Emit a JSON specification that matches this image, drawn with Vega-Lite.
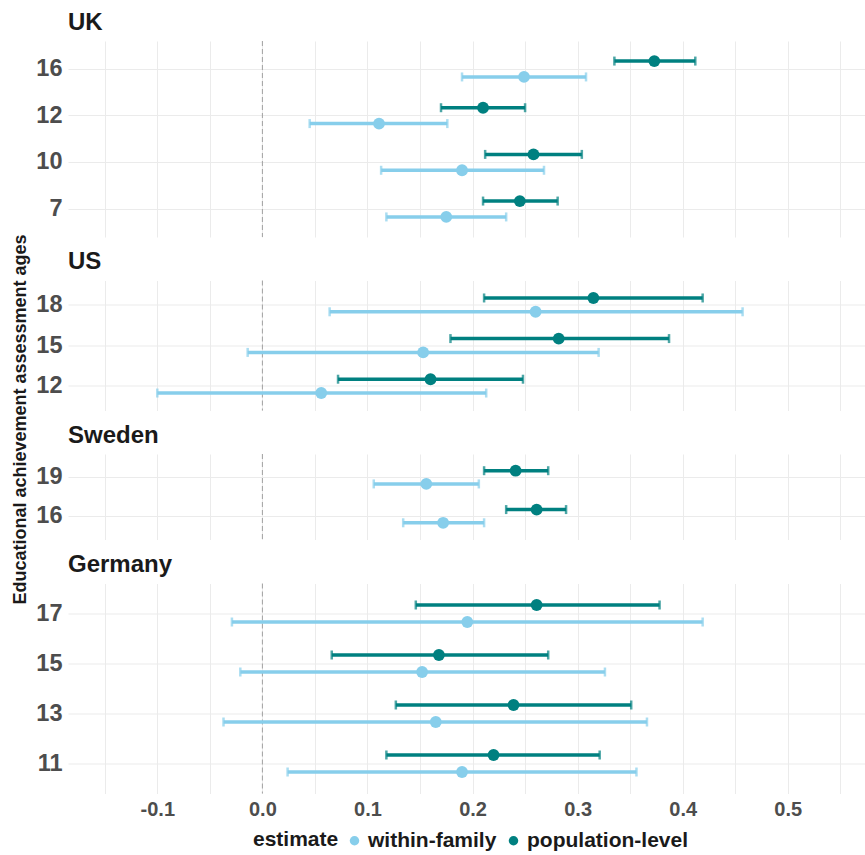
{
  "$schema": "https://vega.github.io/schema/vega-lite/v6.json",
  "padding": {"left": 11, "top": 10, "right": 0, "bottom": 0},
  "autosize": {"type": "pad"},
  "background": "white",
  "datasets": {
    "est": [
      {"country": "UK", "age": 16, "estimate": "population-level", "est": 0.373, "lo": 0.335, "hi": 0.412},
      {"country": "UK", "age": 16, "estimate": "within-family", "est": 0.249, "lo": 0.190, "hi": 0.308},
      {"country": "UK", "age": 12, "estimate": "population-level", "est": 0.210, "lo": 0.170, "hi": 0.250},
      {"country": "UK", "age": 12, "estimate": "within-family", "est": 0.111, "lo": 0.045, "hi": 0.176},
      {"country": "UK", "age": 10, "estimate": "population-level", "est": 0.258, "lo": 0.212, "hi": 0.304},
      {"country": "UK", "age": 10, "estimate": "within-family", "est": 0.190, "lo": 0.113, "hi": 0.268},
      {"country": "UK", "age": 7, "estimate": "population-level", "est": 0.245, "lo": 0.210, "hi": 0.281},
      {"country": "UK", "age": 7, "estimate": "within-family", "est": 0.175, "lo": 0.118, "hi": 0.232},
      {"country": "US", "age": 18, "estimate": "population-level", "est": 0.315, "lo": 0.211, "hi": 0.419},
      {"country": "US", "age": 18, "estimate": "within-family", "est": 0.260, "lo": 0.064, "hi": 0.457},
      {"country": "US", "age": 15, "estimate": "population-level", "est": 0.282, "lo": 0.179, "hi": 0.387},
      {"country": "US", "age": 15, "estimate": "within-family", "est": 0.153, "lo": -0.014, "hi": 0.320},
      {"country": "US", "age": 12, "estimate": "population-level", "est": 0.160, "lo": 0.072, "hi": 0.248},
      {"country": "US", "age": 12, "estimate": "within-family", "est": 0.056, "lo": -0.100, "hi": 0.213},
      {"country": "Sweden", "age": 19, "estimate": "population-level", "est": 0.241, "lo": 0.211, "hi": 0.272},
      {"country": "Sweden", "age": 19, "estimate": "within-family", "est": 0.156, "lo": 0.106, "hi": 0.206},
      {"country": "Sweden", "age": 16, "estimate": "population-level", "est": 0.261, "lo": 0.232, "hi": 0.289},
      {"country": "Sweden", "age": 16, "estimate": "within-family", "est": 0.172, "lo": 0.134, "hi": 0.211},
      {"country": "Germany", "age": 17, "estimate": "population-level", "est": 0.261, "lo": 0.146, "hi": 0.378},
      {"country": "Germany", "age": 17, "estimate": "within-family", "est": 0.195, "lo": -0.029, "hi": 0.419},
      {"country": "Germany", "age": 15, "estimate": "population-level", "est": 0.168, "lo": 0.066, "hi": 0.272},
      {"country": "Germany", "age": 15, "estimate": "within-family", "est": 0.152, "lo": -0.021, "hi": 0.326},
      {"country": "Germany", "age": 13, "estimate": "population-level", "est": 0.239, "lo": 0.127, "hi": 0.351},
      {"country": "Germany", "age": 13, "estimate": "within-family", "est": 0.165, "lo": -0.037, "hi": 0.366},
      {"country": "Germany", "age": 11, "estimate": "population-level", "est": 0.220, "lo": 0.118, "hi": 0.321},
      {"country": "Germany", "age": 11, "estimate": "within-family", "est": 0.190, "lo": 0.024, "hi": 0.356}
    ],
    "zero": [{"zero": 0}]
  },
  "bounds": "flush",
  "spacing": 43.5,
  "resolve": {"scale": {"x": "independent", "y": "independent", "yOffset": "independent"}},
  "vconcat": [
    {
      "title": {"text": "UK"},
      "width": 797, "height": 196,
      "layer": [
        {"data": {"name": "zero"}, "mark": {"type": "rule", "color": "#a0a0a0", "strokeDash": [5, 3], "strokeWidth": 1},
         "encoding": {"x": {"field": "zero", "type": "quantitative", "scale": {"domain": [-0.185, 0.5735], "nice": false, "zero": false},
           "axis": {"title": null, "labels": false, "grid": true, "values": [-0.15, -0.1, -0.05, 0, 0.05, 0.1, 0.15, 0.2, 0.25, 0.3, 0.35, 0.4, 0.45, 0.5, 0.55]}}}},
        {"data": {"name": "est"}, "transform": [{"filter": "datum.country === 'UK'"}],
         "encoding": {
           "y": {"field": "age", "type": "ordinal", "sort": "descending", "scale": {"paddingInner": 0, "paddingOuter": 0.1},
             "axis": {"title": "Educational achievement assessment ages", "grid": true, "bandPosition": 0.5, "titleX": -48, "titleY": 378, "titleAngle": -90, "titleAlign": "center", "titleBaseline": "middle", "titleFontSize": 18}},
           "yOffset": {"field": "estimate", "type": "nominal", "scale": {"domain": ["population-level", "within-family"], "paddingInner": 0, "paddingOuter": 0.47}}
         },
         "layer": [
           {"mark": {"type": "point", "filled": true, "size": 140, "opacity": 1, "strokeWidth": 0}, "encoding": {"x": {"field": "est", "type": "quantitative", "scale": {"domain": [-0.185, 0.5735], "nice": false, "zero": false}, "axis": {"title": null}}, "fill": {"field": "estimate", "type": "nominal", "scale": {"domain": ["within-family", "population-level"], "range": ["#87CEEB", "#008080"]}, "title": "estimate", "legend": {"orient": "none", "legendX": 185, "legendY": 789, "direction": "horizontal", "titleOrient": "left"}}}},
           {"mark": {"type": "rule", "strokeWidth": 3.5}, "encoding": {"x": {"field": "lo", "type": "quantitative", "axis": {"title": null}}, "x2": {"field": "hi"}, "color": {"field": "estimate", "type": "nominal", "scale": {"domain": ["within-family", "population-level"], "range": ["#87CEEB", "#008080"]}, "legend": null}}},
           {"mark": {"type": "tick", "size": 9, "thickness": 2.5, "orient": "vertical"}, "encoding": {"x": {"field": "lo", "type": "quantitative", "axis": {"title": null}}, "color": {"field": "estimate", "type": "nominal", "legend": null}}},
           {"mark": {"type": "tick", "size": 9, "thickness": 2.5, "orient": "vertical"}, "encoding": {"x": {"field": "hi", "type": "quantitative", "axis": {"title": null}}, "color": {"field": "estimate", "type": "nominal", "legend": null}}}
         ]}
      ]
    },
    {
      "title": {"text": "US"},
      "width": 797, "height": 130,
      "layer": [
        {"data": {"name": "zero"}, "mark": {"type": "rule", "color": "#a0a0a0", "strokeDash": [5, 3], "strokeWidth": 1},
         "encoding": {"x": {"field": "zero", "type": "quantitative", "scale": {"domain": [-0.185, 0.5735], "nice": false, "zero": false},
           "axis": {"title": null, "labels": false, "grid": true, "values": [-0.15, -0.1, -0.05, 0, 0.05, 0.1, 0.15, 0.2, 0.25, 0.3, 0.35, 0.4, 0.45, 0.5, 0.55]}}}},
        {"data": {"name": "est"}, "transform": [{"filter": "datum.country === 'US'"}],
         "encoding": {
           "y": {"field": "age", "type": "ordinal", "sort": "descending", "scale": {"paddingInner": 0, "paddingOuter": 0.1}, "axis": {"title": null, "grid": true, "bandPosition": 0.5}},
           "yOffset": {"field": "estimate", "type": "nominal", "scale": {"domain": ["population-level", "within-family"], "paddingInner": 0, "paddingOuter": 0.47}}
         },
         "layer": [
           {"mark": {"type": "point", "filled": true, "size": 140, "opacity": 1, "strokeWidth": 0}, "encoding": {"x": {"field": "est", "type": "quantitative", "scale": {"domain": [-0.185, 0.5735], "nice": false, "zero": false}, "axis": {"title": null}}, "fill": {"field": "estimate", "type": "nominal", "scale": {"domain": ["within-family", "population-level"], "range": ["#87CEEB", "#008080"]}, "title": "estimate"}}},
           {"mark": {"type": "rule", "strokeWidth": 3.5}, "encoding": {"x": {"field": "lo", "type": "quantitative", "axis": {"title": null}}, "x2": {"field": "hi"}, "color": {"field": "estimate", "type": "nominal", "scale": {"domain": ["within-family", "population-level"], "range": ["#87CEEB", "#008080"]}, "legend": null}}},
           {"mark": {"type": "tick", "size": 9, "thickness": 2.5, "orient": "vertical"}, "encoding": {"x": {"field": "lo", "type": "quantitative", "axis": {"title": null}}, "color": {"field": "estimate", "type": "nominal", "legend": null}}},
           {"mark": {"type": "tick", "size": 9, "thickness": 2.5, "orient": "vertical"}, "encoding": {"x": {"field": "hi", "type": "quantitative", "axis": {"title": null}}, "color": {"field": "estimate", "type": "nominal", "legend": null}}}
         ]}
      ]
    },
    {
      "title": {"text": "Sweden"},
      "width": 797, "height": 85.5,
      "layer": [
        {"data": {"name": "zero"}, "mark": {"type": "rule", "color": "#a0a0a0", "strokeDash": [5, 3], "strokeWidth": 1},
         "encoding": {"x": {"field": "zero", "type": "quantitative", "scale": {"domain": [-0.185, 0.5735], "nice": false, "zero": false},
           "axis": {"title": null, "labels": false, "grid": true, "values": [-0.15, -0.1, -0.05, 0, 0.05, 0.1, 0.15, 0.2, 0.25, 0.3, 0.35, 0.4, 0.45, 0.5, 0.55]}}}},
        {"data": {"name": "est"}, "transform": [{"filter": "datum.country === 'Sweden'"}],
         "encoding": {
           "y": {"field": "age", "type": "ordinal", "sort": "descending", "scale": {"paddingInner": 0, "paddingOuter": 0.1}, "axis": {"title": null, "grid": true, "bandPosition": 0.5}},
           "yOffset": {"field": "estimate", "type": "nominal", "scale": {"domain": ["population-level", "within-family"], "paddingInner": 0, "paddingOuter": 0.47}}
         },
         "layer": [
           {"mark": {"type": "point", "filled": true, "size": 140, "opacity": 1, "strokeWidth": 0}, "encoding": {"x": {"field": "est", "type": "quantitative", "scale": {"domain": [-0.185, 0.5735], "nice": false, "zero": false}, "axis": {"title": null}}, "fill": {"field": "estimate", "type": "nominal", "scale": {"domain": ["within-family", "population-level"], "range": ["#87CEEB", "#008080"]}, "title": "estimate"}}},
           {"mark": {"type": "rule", "strokeWidth": 3.5}, "encoding": {"x": {"field": "lo", "type": "quantitative", "axis": {"title": null}}, "x2": {"field": "hi"}, "color": {"field": "estimate", "type": "nominal", "scale": {"domain": ["within-family", "population-level"], "range": ["#87CEEB", "#008080"]}, "legend": null}}},
           {"mark": {"type": "tick", "size": 9, "thickness": 2.5, "orient": "vertical"}, "encoding": {"x": {"field": "lo", "type": "quantitative", "axis": {"title": null}}, "color": {"field": "estimate", "type": "nominal", "legend": null}}},
           {"mark": {"type": "tick", "size": 9, "thickness": 2.5, "orient": "vertical"}, "encoding": {"x": {"field": "hi", "type": "quantitative", "axis": {"title": null}}, "color": {"field": "estimate", "type": "nominal", "legend": null}}}
         ]}
      ]
    },
    {
      "title": {"text": "Germany"},
      "width": 797, "height": 210,
      "layer": [
        {"data": {"name": "zero"}, "mark": {"type": "rule", "color": "#a0a0a0", "strokeDash": [5, 3], "strokeWidth": 1},
         "encoding": {"x": {"field": "zero", "type": "quantitative", "scale": {"domain": [-0.185, 0.5735], "nice": false, "zero": false},
           "axis": {"title": null, "labels": true, "grid": true, "values": [-0.15, -0.1, -0.05, 0, 0.05, 0.1, 0.15, 0.2, 0.25, 0.3, 0.35, 0.4, 0.45, 0.5, 0.55],
             "labelExpr": "abs(round(datum.value*20)) % 2 == 0 ? replace(format(datum.value, '.1f'), '\u2212', '-') : ''"}}}},
        {"data": {"name": "est"}, "transform": [{"filter": "datum.country === 'Germany'"}],
         "encoding": {
           "y": {"field": "age", "type": "ordinal", "sort": "descending", "scale": {"paddingInner": 0, "paddingOuter": 0.1}, "axis": {"title": null, "grid": true, "bandPosition": 0.5}},
           "yOffset": {"field": "estimate", "type": "nominal", "scale": {"domain": ["population-level", "within-family"], "paddingInner": 0, "paddingOuter": 0.47}}
         },
         "layer": [
           {"mark": {"type": "point", "filled": true, "size": 140, "opacity": 1, "strokeWidth": 0}, "encoding": {"x": {"field": "est", "type": "quantitative", "scale": {"domain": [-0.185, 0.5735], "nice": false, "zero": false}, "axis": {"title": null}}, "fill": {"field": "estimate", "type": "nominal", "scale": {"domain": ["within-family", "population-level"], "range": ["#87CEEB", "#008080"]}, "title": "estimate"}}},
           {"mark": {"type": "rule", "strokeWidth": 3.5}, "encoding": {"x": {"field": "lo", "type": "quantitative", "axis": {"title": null}}, "x2": {"field": "hi"}, "color": {"field": "estimate", "type": "nominal", "scale": {"domain": ["within-family", "population-level"], "range": ["#87CEEB", "#008080"]}, "legend": null}}},
           {"mark": {"type": "tick", "size": 9, "thickness": 2.5, "orient": "vertical"}, "encoding": {"x": {"field": "lo", "type": "quantitative", "axis": {"title": null}}, "color": {"field": "estimate", "type": "nominal", "legend": null}}},
           {"mark": {"type": "tick", "size": 9, "thickness": 2.5, "orient": "vertical"}, "encoding": {"x": {"field": "hi", "type": "quantitative", "axis": {"title": null}}, "color": {"field": "estimate", "type": "nominal", "legend": null}}}
         ]}
      ]
    }
  ],
  "config": {
    "view": {"stroke": null},
    "font": "Liberation Sans",
    "axis": {"domain": false, "ticks": false, "gridColor": "#ebebeb", "gridWidth": 1, "labelFont": "Liberation Sans", "labelFontWeight": "bold", "labelColor": "#4d4d4d", "titleFont": "Liberation Sans", "titleFontWeight": "bold", "titleColor": "#1a1a1a"},
    "axisX": {"labelFontSize": 20, "labelPadding": 6, "grid": true},
    "axisY": {"labelFontSize": 23.5, "labelPadding": 6, "grid": true},
    "axisBand": {"grid": true},
    "title": {"anchor": "start", "frame": "group", "font": "Liberation Sans", "fontSize": 24, "fontWeight": "bold", "color": "#1a1a1a", "offset": 6, "baseline": "alphabetic"},
    "legend": {"titleFont": "Liberation Sans", "labelFont": "Liberation Sans", "titleFontSize": 21, "labelFontSize": 21, "titleFontWeight": "bold", "labelFontWeight": "bold", "titleColor": "#1a1a1a", "labelColor": "#1a1a1a", "symbolType": "circle", "symbolSize": 90, "symbolStrokeWidth": 0, "columnPadding": 6, "labelOffset": 3, "titlePadding": 5, "labelLimit": 400}
  }
}
